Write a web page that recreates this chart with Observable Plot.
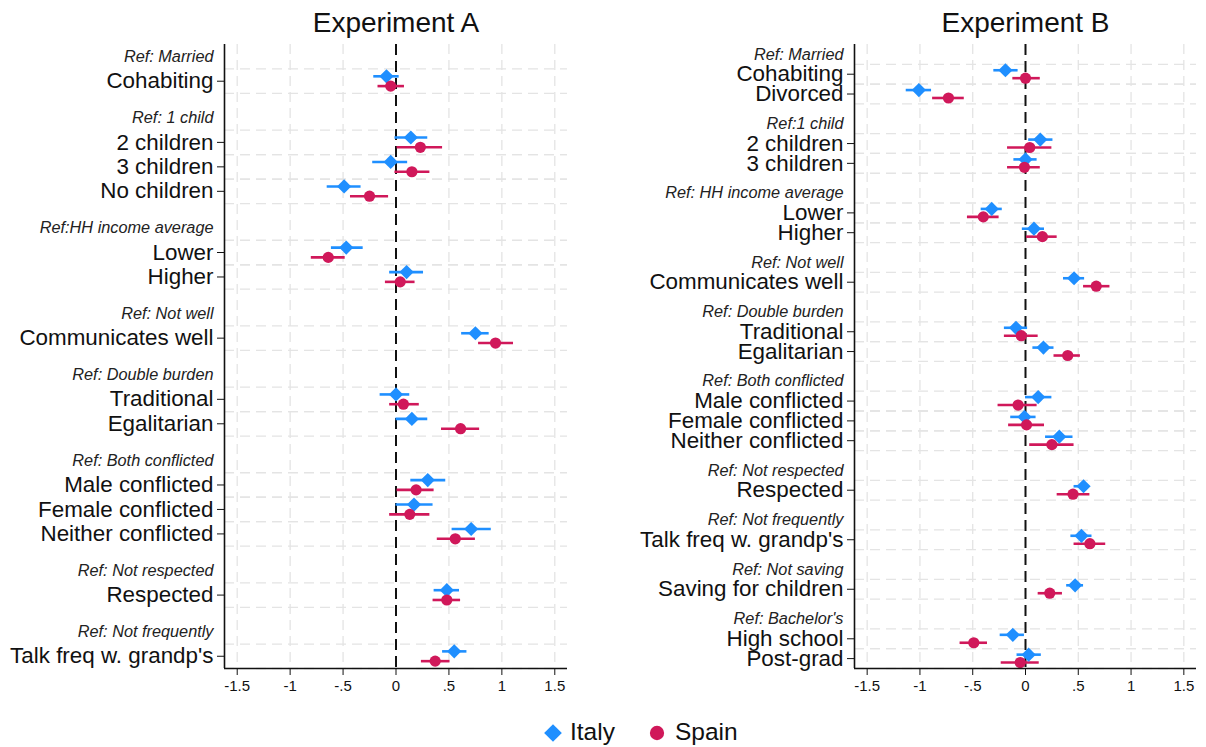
<!DOCTYPE html>
<html><head><meta charset="utf-8">
<script src="https://cdn.jsdelivr.net/npm/d3@7"></script>
<script src="https://cdn.jsdelivr.net/npm/@observablehq/plot@0.6"></script>
<style>
body{margin:0;background:#fff;font-family:"Liberation Sans",Arial,sans-serif;}
#wrap{position:relative;width:1206px;height:747px;overflow:hidden;}
#charts{display:flex;}
.lg{position:absolute;font-size:24.5px;line-height:28px;color:#111;}
</style></head><body>
<div id="wrap"><div id="charts"></div><div id="legend"></div></div>
<script>
// ---- Data ----
const countries = ["Italy", "Spain"];
const colors = ["#1f8fff", "#d0185a"];
const xTicks = [-1.5, -1, -0.5, 0, 0.5, 1, 1.5];

const headingsA = ["Ref: Married", "Ref: 1 child", "Ref:HH income average", "Ref: Not well",
  "Ref: Double burden", "Ref: Both conflicted", "Ref: Not respected", "Ref: Not frequently"];
const itemsA = [["Cohabiting"], ["2 children", "3 children", "No children"], ["Lower", "Higher"],
  ["Communicates well"], ["Traditional", "Egalitarian"],
  ["Male conflicted", "Female conflicted", "Neither conflicted"], ["Respected"], ["Talk freq w. grandp's"]];
const italyEstA = [-0.09, 0.14, -0.05, -0.49, -0.47, 0.10, 0.75, 0.00, 0.15, 0.30, 0.17, 0.71, 0.48, 0.55];
const italyLoA  = [-0.21, -0.01, -0.22, -0.65, -0.61, -0.06, 0.62, -0.15, 0.00, 0.14, 0.00, 0.53, 0.36, 0.44];
const italyHiA  = [0.03, 0.30, 0.11, -0.33, -0.31, 0.26, 0.88, 0.13, 0.30, 0.47, 0.35, 0.90, 0.60, 0.67];
const spainEstA = [-0.05, 0.23, 0.15, -0.25, -0.64, 0.04, 0.94, 0.07, 0.61, 0.19, 0.13, 0.56, 0.48, 0.37];
const spainLoA  = [-0.17, 0.01, -0.01, -0.43, -0.80, -0.10, 0.78, -0.06, 0.43, 0.01, -0.06, 0.39, 0.35, 0.24];
const spainHiA  = [0.08, 0.44, 0.32, -0.07, -0.48, 0.18, 1.11, 0.22, 0.79, 0.36, 0.32, 0.75, 0.61, 0.51];

const headingsB = ["Ref: Married", "Ref:1 child", "Ref: HH income average", "Ref: Not well",
  "Ref: Double burden", "Ref: Both conflicted", "Ref: Not respected", "Ref: Not frequently",
  "Ref: Not saving", "Ref: Bachelor's"];
const itemsB = [["Cohabiting", "Divorced"], ["2 children", "3 children"], ["Lower", "Higher"],
  ["Communicates well"], ["Traditional", "Egalitarian"],
  ["Male conflicted", "Female conflicted", "Neither conflicted"], ["Respected"],
  ["Talk freq w. grandp's"], ["Saving for children"], ["High school", "Post-grad"]];
const italyEstB = [-0.19, -1.01, 0.14, 0.00, -0.32, 0.08, 0.46, -0.09, 0.17, 0.12, -0.01, 0.32, 0.55, 0.53, 0.47, -0.12, 0.03];
const italyLoB  = [-0.30, -1.13, 0.03, -0.11, -0.42, -0.03, 0.36, -0.20, 0.07, 0.00, -0.14, 0.19, 0.46, 0.43, 0.39, -0.24, -0.08];
const italyHiB  = [-0.07, -0.89, 0.26, 0.11, -0.22, 0.18, 0.56, 0.02, 0.27, 0.25, 0.10, 0.45, 0.59, 0.63, 0.55, -0.01, 0.15];
const spainEstB = [0.00, -0.73, 0.04, -0.01, -0.40, 0.16, 0.67, -0.04, 0.40, -0.07, 0.01, 0.25, 0.45, 0.61, 0.23, -0.49, -0.05];
const spainLoB  = [-0.12, -0.88, -0.17, -0.17, -0.55, 0.01, 0.55, -0.20, 0.27, -0.26, -0.16, 0.04, 0.30, 0.46, 0.12, -0.62, -0.23];
const spainHiB  = [0.14, -0.58, 0.25, 0.14, -0.25, 0.30, 0.80, 0.12, 0.52, 0.11, 0.18, 0.46, 0.61, 0.76, 0.35, -0.36, 0.13];

// ---- Layout helpers ----
function layout(headings, items) {
  let p = 0; const heads = [], rows = [];
  headings.forEach((h, i) => {
    heads.push({label: h, pos: p});
    items[i].forEach(it => { p += 1; rows.push({label: it, pos: p}); });
    p += 1.5;
  });
  return {heads, rows, max: p - 1.5};
}
const fmtX = d => d === 0 ? "0" : String(d).replace("0.", ".");
const xDomain = [-1.62, 1.62];
const font = "'Liberation Sans', Arial, sans-serif";

function panel(title, headings, items, series, mLeft, mRight) {
  const {heads, rows, max} = layout(headings, items);
  const yMax = max + 0.5;
  const labelOf = new Map(rows.map(r => [r.pos, r.label]));
  const gridY = rows.flatMap(r => [r.pos - 0.5, r.pos + 0.5]);
  const offsets = [-0.2, 0.2];
  const data = series.map((s, ci) => rows.map((r, k) => ({
    country: countries[ci], y: r.pos + offsets[ci], est: s.est[k], lo: s.lo[k], hi: s.hi[k]
  })));
  return Plot.plot({
    width: 603, height: 712,
    marginLeft: mLeft, marginRight: mRight, marginTop: 44, marginBottom: 44,
    style: {fontFamily: font, background: "white", overflow: "visible", color: "#111"},
    x: {domain: xDomain},
    y: {domain: [-0.5, yMax], reverse: true},
    marks: [
      Plot.ruleY(gridY, {stroke: "#e4e4e4", strokeWidth: 1.3, strokeDasharray: "10,6"}),
      Plot.ruleX(xTicks.filter(d => d !== 0), {stroke: "#e4e4e4", strokeWidth: 1.3, strokeDasharray: "10,6"}),
      Plot.ruleX([0], {stroke: "#111", strokeWidth: 2, strokeDasharray: "11,6"}),
      ...data.map((d, ci) => Plot.ruleY(d, {y: "y", x1: "lo", x2: "hi", stroke: colors[ci], strokeWidth: 2.6})),
      Plot.dot(data[0], {x: "est", y: "y", symbol: "diamond2", fill: colors[0], r: 6.4}),
      Plot.dot(data[1], {x: "est", y: "y", symbol: "circle", fill: colors[1], r: 5.6}),
      Plot.ruleX([xDomain[0]], {stroke: "#111", strokeWidth: 1.6}),
      Plot.ruleY([yMax], {stroke: "#111", strokeWidth: 1.6}),
      Plot.axisX({ticks: xTicks, tickFormat: fmtX, fontSize: 15, tickSize: 7, tickPadding: 5, label: null}),
      Plot.axisY({ticks: rows.map(r => r.pos), tickFormat: d => labelOf.get(d), fontSize: 22.4,
        tickSize: 7, tickPadding: 4, label: null}),
      Plot.text(heads, {y: "pos", text: "label", frameAnchor: "left", dx: -11, textAnchor: "end",
        fontSize: 16.3, fontStyle: "italic", fill: "#222"}),
      Plot.text([title], {text: d => d, frameAnchor: "top", dy: -13, lineAnchor: "bottom", fontSize: 28, fill: "#111"})
    ]
  });
}

const charts = document.getElementById("charts");
charts.append(panel("Experiment A", headingsA, itemsA, [
  {est: italyEstA, lo: italyLoA, hi: italyHiA}, {est: spainEstA, lo: spainLoA, hi: spainHiA}], 224, 36));
charts.append(panel("Experiment B", headingsB, itemsB, [
  {est: italyEstB, lo: italyLoB, hi: italyHiB}, {est: spainEstB, lo: spainLoB, hi: spainHiB}], 251, 10));

// ---- Legend ----
const legend = document.getElementById("legend");
const legendItems = [
  {label: countries[0], symbol: d3.symbolDiamond2, size: 200, color: colors[0], cx: 553, tx: 570},
  {label: countries[1], symbol: d3.symbolCircle, size: 160, color: colors[1], cx: 657, tx: 675}
];
legendItems.forEach(it => {
  const svg = d3.create("svg").attr("width", 20).attr("height", 20)
    .style("position", "absolute").style("left", (it.cx - 10) + "px").style("top", "723px");
  svg.append("path").attr("d", d3.symbol(it.symbol, it.size)()).attr("transform", "translate(10,10)").attr("fill", it.color);
  legend.append(svg.node());
  const t = document.createElement("div");
  t.className = "lg"; t.textContent = it.label;
  t.style.left = it.tx + "px"; t.style.top = "718px";
  legend.append(t);
});
</script>
</body></html>
